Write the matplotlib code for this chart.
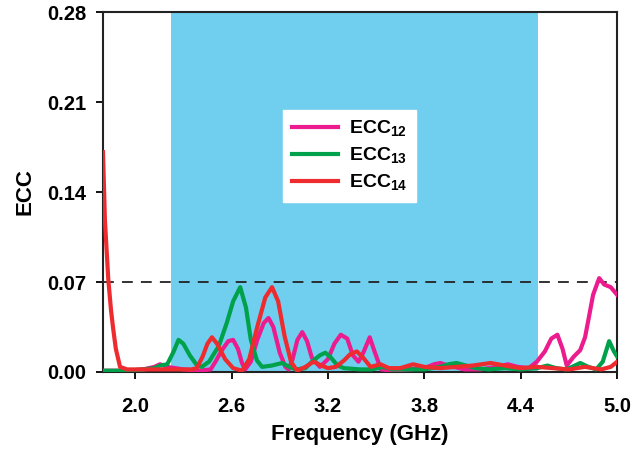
import matplotlib
matplotlib.use("Agg")
import matplotlib.pyplot as plt

plt.rcParams['font.family'] = ['Liberation Sans', 'DejaVu Sans']
plt.rcParams['font.weight'] = 'bold'
plt.rcParams['mathtext.fontset'] = 'custom'
plt.rcParams['mathtext.rm'] = 'Liberation Sans:bold'
plt.rcParams['mathtext.bf'] = 'Liberation Sans:bold'

# ECC12 (frequency in GHz, ECC)
f12 = [1.80, 1.95, 2.05, 2.12, 2.155, 2.20, 2.30, 2.40, 2.47, 2.50, 2.54, 2.58, 2.61,
       2.64, 2.665, 2.685, 2.72, 2.76, 2.80, 2.83, 2.86, 2.90, 2.935, 2.955, 2.98,
       3.01, 3.04, 3.07, 3.10, 3.15, 3.20, 3.24, 3.28, 3.32, 3.355, 3.39, 3.42, 3.46,
       3.49, 3.53, 3.60, 3.70, 3.80, 3.86, 3.90, 3.95, 4.05, 4.15, 4.25, 4.32, 4.38,
       4.45, 4.50, 4.55, 4.59, 4.628, 4.66, 4.686, 4.73, 4.77, 4.80, 4.82, 4.85,
       4.888, 4.92, 4.96, 5.00]
ecc12 = [0.001, 0.001, 0.002, 0.004, 0.006, 0.004, 0.002, 0.001, 0.002, 0.008, 0.017,
         0.024, 0.025, 0.018, 0.007, 0.002, 0.008, 0.025, 0.038, 0.042, 0.035, 0.015,
         0.004, 0.002, 0.010, 0.025, 0.031, 0.024, 0.011, 0.004, 0.010, 0.022, 0.029,
         0.026, 0.013, 0.008, 0.015, 0.027, 0.016, 0.002, 0.001, 0.002, 0.003, 0.006,
         0.007, 0.005, 0.002, 0.002, 0.004, 0.006, 0.004, 0.003, 0.008, 0.016, 0.026,
         0.029, 0.018, 0.005, 0.012, 0.017, 0.027, 0.040, 0.060, 0.073, 0.068, 0.066,
         0.060]

# ECC13
f13 = [1.80, 1.95, 2.05, 2.12, 2.155, 2.20, 2.24, 2.27, 2.30, 2.34, 2.38, 2.415,
       2.46, 2.52, 2.57, 2.61, 2.654, 2.69, 2.72, 2.758, 2.79, 2.85, 2.914, 2.96,
       3.00, 3.06, 3.10, 3.15, 3.184, 3.22, 3.26, 3.30, 3.40, 3.47, 3.545, 3.60,
       3.70, 3.80, 3.90, 3.95, 4.00, 4.06, 4.12, 4.20, 4.30, 4.40, 4.50, 4.566,
       4.62, 4.68, 4.72, 4.77, 4.82, 4.87, 4.91, 4.95, 4.98, 5.00]
ecc13 = [0.001, 0.001, 0.002, 0.003, 0.005, 0.006, 0.016, 0.025, 0.022, 0.013, 0.006,
         0.004, 0.008, 0.020, 0.038, 0.055, 0.066, 0.050, 0.025, 0.009, 0.004, 0.005,
         0.007, 0.004, 0.002, 0.003, 0.008, 0.013, 0.015, 0.011, 0.005, 0.003, 0.002,
         0.002, 0.004, 0.002, 0.002, 0.002, 0.004, 0.006, 0.007, 0.005, 0.003, 0.002,
         0.003, 0.002, 0.003, 0.005, 0.003, 0.002, 0.004, 0.007, 0.004, 0.002, 0.008,
         0.024, 0.016, 0.012]

# ECC14
f14 = [1.80, 1.812, 1.833, 1.85, 1.864, 1.88, 1.906, 1.95, 2.10, 2.25, 2.35, 2.384,
       2.42, 2.45, 2.478, 2.51, 2.56, 2.61, 2.665, 2.71, 2.76, 2.81, 2.852, 2.89,
       2.93, 2.97, 3.008, 3.06, 3.11, 3.16, 3.20, 3.25, 3.30, 3.34, 3.38, 3.42,
       3.465, 3.527, 3.58, 3.65, 3.73, 3.80, 3.90, 4.00, 4.10, 4.213, 4.30, 4.40,
       4.50, 4.60, 4.70, 4.80, 4.90, 4.96, 5.00]
ecc14 = [0.171, 0.118, 0.072, 0.048, 0.033, 0.018, 0.004, 0.002, 0.002, 0.002, 0.002,
         0.003, 0.012, 0.022, 0.027, 0.022, 0.010, 0.003, 0.001, 0.010, 0.035, 0.058,
         0.066, 0.055, 0.028, 0.008, 0.001, 0.004, 0.008, 0.005, 0.003, 0.004, 0.009,
         0.014, 0.016, 0.011, 0.004, 0.006, 0.003, 0.003, 0.006, 0.004, 0.003, 0.004,
         0.005, 0.007, 0.005, 0.003, 0.004, 0.003, 0.002, 0.004, 0.002, 0.004, 0.008]

band_lo, band_hi = 2.225, 4.51
threshold = 0.07

fig = plt.figure(figsize=(6.33, 4.49), dpi=100)
ax = fig.add_axes([0.1627, 0.1715, 0.8123, 0.8015])

ax.axvspan(band_lo, band_hi, color='#70CFEF', lw=0, zorder=0)
ax.axhline(threshold, color='#222222', lw=1.3, ls=(0, (6, 4.5)), zorder=1)

ax.plot(f12, ecc12, color='#EC1C8E', lw=3, label=r'ECC$_{12}$', zorder=3)
ax.plot(f13, ecc13, color='#00A14B', lw=3, label=r'ECC$_{13}$', zorder=3)
ax.plot(f14, ecc14, color='#EE2B2E', lw=3, label=r'ECC$_{14}$', zorder=4)

ax.set_xlim(1.8, 5.0)
ax.set_ylim(0, 0.28)
ax.set_xticks([2.0, 2.6, 3.2, 3.8, 4.4, 5.0])
ax.set_xticklabels(['2.0', '2.6', '3.2', '3.8', '4.4', '5.0'])
ax.set_yticks([0.0, 0.07, 0.14, 0.21, 0.28])
ax.set_yticklabels(['0.00', '0.07', '0.14', '0.21', '0.28'])
ax.tick_params(direction='out', length=5, width=1.3, labelsize=14.5)
ax.tick_params(axis='x', pad=13)
ax.tick_params(axis='y', pad=7)

for s in ax.spines.values():
    s.set_linewidth(1.5)
    s.set_color('#222222')

ax.set_xlabel('Frequency (GHz)', fontsize=16, fontweight='bold', labelpad=6)
ax.set_ylabel('ECC', fontsize=16, fontweight='bold', labelpad=8)

leg = ax.legend(loc='upper left', bbox_to_anchor=(0.35, 0.728), borderaxespad=0,
                fontsize=14, frameon=True, fancybox=False, framealpha=1,
                edgecolor='white', facecolor='white', handlelength=2.4,
                labelspacing=0.35, borderpad=0.45, handletextpad=0.55)
for line in leg.get_lines():
    line.set_linewidth(3)
leg.set_zorder(5)

fig.savefig('out.png', dpi=100)
